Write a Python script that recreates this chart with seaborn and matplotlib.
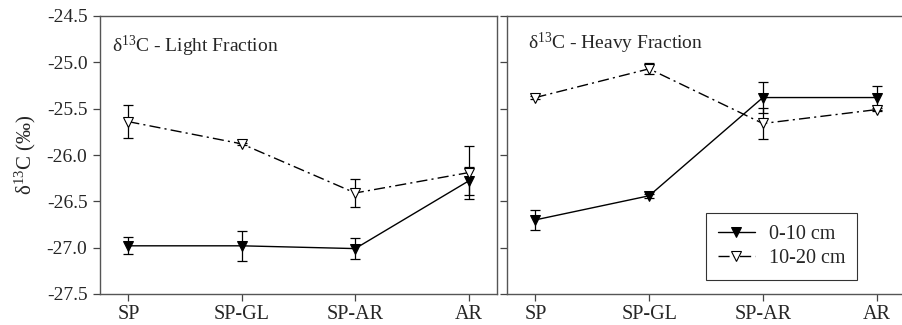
import numpy as np
import pandas as pd
import matplotlib
matplotlib.use("Agg")
import matplotlib.pyplot as plt
import seaborn as sns

categories = ["SP", "SP-GL", "SP-AR", "AR"]
depths = ["0-10 cm", "10-20 cm"]

light_0_10 = [-26.98, -26.98, -27.01, -26.28]
light_0_10_err = [0.09, 0.16, 0.11, 0.15]
light_10_20 = [-25.64, -25.88, -26.41, -26.19]
light_10_20_err = [0.18, 0.01, 0.155, 0.29]

heavy_0_10 = [-26.70, -26.44, -25.38, -25.38]
heavy_0_10_err = [0.11, 0.02, 0.17, 0.13]
heavy_10_20 = [-25.38, -25.07, -25.66, -25.51]
heavy_10_20_err = [0.02, 0.06, 0.17, 0.02]

panel_titles = ["δ$^{13}$C - Light Fraction", "δ$^{13}$C - Heavy Fraction"]
y_ticks = [-27.5, -27.0, -26.5, -26.0, -25.5, -25.0, -24.5]

sns.set_theme(style="ticks")
plt.rcParams["font.family"] = ["Liberation Serif", "DejaVu Serif"]
plt.rcParams["mathtext.fontset"] = "custom"
plt.rcParams["mathtext.rm"] = "Liberation Serif"
plt.rcParams["mathtext.it"] = "Liberation Serif:italic"
plt.rcParams["mathtext.bf"] = "Liberation Serif:bold"

fig = plt.figure(figsize=(9.03, 3.25), dpi=100)
W, H = 903, 325
ax1 = fig.add_axes([100 / W, 1 - 294 / H, 397 / W, 278 / H])
ax2 = fig.add_axes([507 / W, 1 - 294 / H, 398 / W, 278 / H])

panels = [
    (ax1, light_0_10, light_0_10_err, light_10_20, light_10_20_err),
    (ax2, heavy_0_10, heavy_0_10_err, heavy_10_20, heavy_10_20_err),
]
title_pos = [(0.03, 0.89), (0.053, 0.90)]

x = np.arange(len(categories))
for i, (ax, m1, e1, m2, e2) in enumerate(panels):
    df = pd.DataFrame({
        "x": np.concatenate([x, x]),
        "y": m1 + m2,
        "depth": [depths[0]] * 4 + [depths[1]] * 4,
    })
    ax.errorbar(x, m1, yerr=e1, fmt="none", ecolor="black", elinewidth=0.9,
                capsize=3.6, capthick=0.9, zorder=2)
    ax.errorbar(x, m2, yerr=e2, fmt="none", ecolor="black", elinewidth=0.9,
                capsize=3.6, capthick=0.9, zorder=2)
    sns.lineplot(data=df[df.depth == depths[0]], x="x", y="y", ax=ax,
                 color="black", lw=1.0, marker="v", markersize=7,
                 markerfacecolor="black", markeredgecolor="black",
                 label=depths[0], legend=False, zorder=3)
    sns.lineplot(data=df[df.depth == depths[1]], x="x", y="y", ax=ax,
                 color="black", lw=1.0, marker="v", markersize=7,
                 markerfacecolor="white", markeredgecolor="black",
                 markeredgewidth=0.8, label=depths[1], legend=False, zorder=3)
    ax.lines[-1].set_dashes([8, 3, 1.5, 3])

    ax.set_xlim(-0.25, 3.25)
    ax.set_ylim(-27.5, -24.5)
    ax.set_xticks(x)
    ax.set_xticklabels(categories, fontsize=14.5)
    ax.set_yticks(y_ticks)
    ax.set_xlabel("")
    ax.set_ylabel("")
    ax.tick_params(direction="out", length=5, width=0.9, color="#444444",
                   labelsize=14, pad=4)
    ax.tick_params(axis="x", labelsize=14.5, pad=3)
    for s in ax.spines.values():
        s.set_visible(True)
        s.set_color("#555555")
        s.set_linewidth(1.0)
    ax.text(title_pos[i][0], title_pos[i][1], panel_titles[i],
            transform=ax.transAxes, fontsize=14, ha="left", va="center")

ax1.set_yticklabels([f"{v:.1f}" for v in y_ticks])
ax2.set_yticklabels([])
ax1.set_ylabel("δ$^{13}$C (‰)", fontsize=15, labelpad=6)

leg = ax2.legend(handles=ax2.lines[-2:], labels=depths, loc="lower right",
                 bbox_to_anchor=(0.88, 0.05), borderaxespad=0.0,
                 fontsize=14.5, frameon=True, fancybox=False,
                 handlelength=1.8, borderpad=0.6, labelspacing=0.25,
                 handletextpad=0.7)
leg.get_frame().set_edgecolor("black")
leg.get_frame().set_linewidth(0.8)

fig.savefig("out.png", dpi=100)
